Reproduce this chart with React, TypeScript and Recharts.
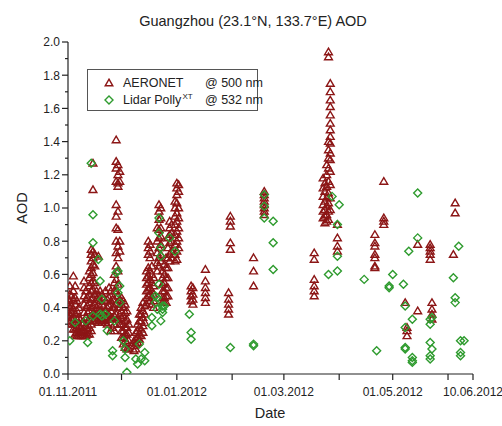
import React from 'react';
import { ScatterChart, Scatter, XAxis, YAxis } from 'recharts';

// days counted from 01.11.2011
const aeronetDays = [
  0, 1, 2, 3, 4, 5, 6, 7, 8, 9, 10, 11, 12, 13, 14, 15, 16, 17, 18, 19, 20, 21, 22, 23, 24, 25,
  26, 27, 28, 29, 30, 31, 32, 33, 34, 37, 38, 39, 40, 41, 42, 43, 44, 45, 46, 47, 48, 50, 51, 52,
  53, 54, 55, 56, 57, 58, 60, 61, 62, 69, 70, 77, 90, 91, 104, 110, 138, 143, 144, 145, 146, 147,
  151, 172, 177, 189, 190, 196, 203, 204, 216, 217,
];
const aeronetAod = [
  [0.45, 0.42, 0.38, 0.35],
  [0.53, 0.48, 0.44, 0.4, 0.36, 0.32],
  [0.47, 0.41, 0.37, 0.33, 0.3],
  [0.59, 0.5, 0.45, 0.39, 0.34, 0.3, 0.27],
  [0.53, 0.46, 0.42, 0.36, 0.31, 0.27, 0.24],
  [0.44, 0.38, 0.33, 0.28, 0.25, 0.23],
  [0.4, 0.34, 0.29, 0.25, 0.23],
  [0.33, 0.28, 0.25, 0.23],
  [0.3, 0.26, 0.23],
  [0.56, 0.52, 0.47, 0.42, 0.37, 0.31, 0.26, 0.23],
  [0.5, 0.45, 0.4, 0.34, 0.29, 0.25, 0.23],
  [0.46, 0.41, 0.37, 0.32, 0.27, 0.24],
  [0.62, 0.58, 0.53, 0.48, 0.43, 0.38, 0.33, 0.28, 0.24],
  [0.75, 0.72, 0.68, 0.64, 0.6, 0.55, 0.5, 0.45, 0.4, 0.35, 0.3, 0.26],
  [1.27, 1.11, 0.74, 0.7, 0.66, 0.61, 0.56, 0.51, 0.46, 0.41, 0.36, 0.32],
  [0.72, 0.65, 0.55, 0.48, 0.42, 0.36, 0.33],
  [0.5, 0.45, 0.4, 0.35, 0.32],
  [0.71, 0.47, 0.42, 0.38, 0.34, 0.31],
  [0.5, 0.44, 0.38, 0.33],
  [0.48, 0.42, 0.37, 0.33, 0.31],
  [0.46, 0.41, 0.36, 0.32],
  [0.5, 0.44, 0.38, 0.34, 0.31],
  [0.45, 0.4, 0.36, 0.33, 0.3],
  [0.52, 0.46, 0.41, 0.36, 0.33],
  [0.5, 0.44, 0.38, 0.34, 0.26],
  [0.45, 0.4, 0.34, 0.28],
  [0.6, 0.55, 0.5, 0.45, 0.4, 0.35, 0.3, 0.26],
  [1.41, 1.28, 1.24, 1.16, 1.02, 0.95, 0.88, 0.8, 0.73, 0.65, 0.57, 0.5, 0.42, 0.36],
  [1.26, 1.2, 1.15, 1.13, 0.98, 0.87, 0.77, 0.7, 0.62, 0.54, 0.47, 0.4, 0.33],
  [1.22, 1.16, 0.8, 0.74, 0.45, 0.4, 0.36, 0.3],
  [0.46, 0.42, 0.38, 0.34, 0.3, 0.26, 0.22],
  [0.44, 0.4, 0.35, 0.3, 0.26, 0.22, 0.18],
  [0.42, 0.37, 0.32, 0.28, 0.24, 0.2, 0.16],
  [0.38, 0.33, 0.28, 0.24, 0.19, 0.15],
  [0.3, 0.25, 0.2, 0.15],
  [0.2, 0.17, 0.14],
  [0.25, 0.21, 0.18, 0.15],
  [0.3, 0.26, 0.22, 0.19],
  [0.36, 0.32, 0.28, 0.24, 0.21],
  [0.4, 0.36, 0.32, 0.27, 0.23],
  [0.43, 0.38, 0.34, 0.29, 0.25],
  [0.41, 0.36, 0.31],
  [0.62, 0.58, 0.54, 0.5, 0.46, 0.42],
  [0.8, 0.76, 0.72, 0.64, 0.59, 0.55, 0.51, 0.47],
  [0.78, 0.74, 0.7, 0.62, 0.57, 0.52, 0.48, 0.44],
  [0.65, 0.6, 0.55, 0.5, 0.46, 0.42],
  [0.58, 0.53, 0.48, 0.44, 0.4],
  [0.88, 0.8, 0.73, 0.67, 0.62],
  [1.02, 0.98, 0.93, 0.87, 0.82, 0.76, 0.7, 0.65],
  [1.0, 0.94, 0.88, 0.83, 0.78, 0.72, 0.68],
  [0.62, 0.58, 0.54, 0.5, 0.46, 0.43],
  [0.66, 0.6, 0.55, 0.5, 0.46, 0.43],
  [0.7, 0.64, 0.58, 0.52, 0.47, 0.43],
  [0.82, 0.76, 0.7, 0.64, 0.58, 0.52, 0.47],
  [0.92, 0.88, 0.84, 0.79, 0.72, 0.68],
  [0.9, 0.85, 0.8, 0.74, 0.7],
  [1.04, 1.0, 0.95, 0.9, 0.84, 0.78, 0.72, 0.68],
  [1.15, 1.12, 1.08, 1.03, 0.97, 0.92, 0.86, 0.8, 0.74, 0.69],
  [1.14, 1.1, 1.0, 0.94, 0.88, 0.82, 0.76],
  [0.53, 0.5, 0.47, 0.44],
  [0.52, 0.48, 0.45, 0.42],
  [0.63, 0.56, 0.52, 0.49, 0.46, 0.43],
  [0.49, 0.45, 0.42, 0.39, 0.36],
  [0.95, 0.92, 0.89, 0.79, 0.75],
  [0.7, 0.62, 0.53],
  [1.1, 1.08, 1.06, 1.04, 1.02, 1.0, 0.98, 0.96],
  [0.73, 0.69, 0.57, 0.53, 0.5, 0.47],
  [1.18, 1.12, 1.07, 1.02, 0.98, 0.94],
  [1.15, 1.1, 1.04, 0.99, 0.95, 0.91],
  [1.26, 1.2, 1.13, 1.06, 1.01, 0.96, 0.92],
  [1.94, 1.91, 1.4, 1.35, 1.3, 1.24, 1.16, 1.09, 1.03, 0.98, 0.93],
  [1.75, 1.7, 1.65, 1.61, 1.56, 1.51, 1.47, 1.43, 1.39, 1.33, 1.29, 1.22, 1.14, 1.06, 0.99],
  [0.9, 0.82, 0.77, 0.74],
  [0.84, 0.79, 0.77, 0.72, 0.7, 0.65, 0.64],
  [1.16, 0.94, 0.92, 0.9],
  [0.43],
  [0.28, 0.26, 0.23],
  [0.78, 0.38],
  [0.78, 0.76, 0.74, 0.72, 0.69],
  [0.43, 0.39, 0.36, 0.33],
  [0.72],
  [1.03, 0.97],
];

const lidarDays = [
  1, 4, 10, 11, 13, 14, 17, 18, 19, 21, 22, 25, 26, 27, 28, 29, 31, 32, 33, 38, 39, 40, 41, 43,
  47, 49, 50, 51, 52, 53, 54, 57, 60, 68, 69, 91, 104, 110, 115, 146, 148, 151, 152, 166, 173,
  180, 182, 188, 189, 191, 193, 196, 203, 204, 216, 217, 219, 220, 222,
];
const lidarAod = [
  [0.2], [0.31], [0.32], [0.19], [1.27], [0.96, 0.79, 0.35], [0.69], [0.56, 0.36], [0.45, 0.35],
  [0.36], [0.26], [0.14, 0.11], [0.32], [0.61], [0.62, 0.49], [0.53, 0.43], [0.2], [0.15, 0.1],
  [0.01], [0.09], [0.06], [0.18], [0.09], [0.13, 0.08], [0.34, 0.29], [0.47, 0.43], [0.46, 0.39],
  [0.94, 0.85, 0.54], [0.76, 0.71, 0.32], [0.41, 0.39, 0.37], [0.41], [0.82], [0.74], [0.36],
  [0.25, 0.21], [0.16], [0.18, 0.17], [1.08, 1.01, 0.94], [0.92, 0.79, 0.63], [0.6], [1.07],
  [0.9, 0.71, 0.62], [1.02], [0.57], [0.14], [0.53, 0.52], [0.6], [0.54], [0.41, 0.28, 0.16, 0.15],
  [0.74], [0.33, 0.1, 0.08, 0.07], [1.09, 0.82], [0.33, 0.3, 0.19, 0.11, 0.09], [0.34, 0.15],
  [0.58], [0.46, 0.43], [0.77], [0.2, 0.13, 0.11], [0.2],
];

const dateTicks = [0, 30, 61, 92, 121, 152, 182, 213, 227];
const dateLabels: Record<number, string> = {
  0: '01.11.2011',
  61: '01.01.2012',
  121: '01.03.2012',
  182: '01.05.2012',
  227: '10.06.2012',
};
const aodTicks = [0, 0.1, 0.2, 0.3, 0.4, 0.5, 0.6, 0.7, 0.8, 0.9, 1.0, 1.1, 1.2, 1.3, 1.4, 1.5, 1.6, 1.7, 1.8, 1.9, 2.0];

const RED = '#8c1616';
const GREEN = '#2e9b2e';
const AXIS = '#222';
const FONT = '"Liberation Sans", Arial, sans-serif';

const aeronet = aeronetDays.flatMap((day, i) => aeronetAod[i].map((aod) => ({ day, aod })));
const lidar = lidarDays.flatMap((day, i) => lidarAod[i].map((aod) => ({ day, aod })));

const isMajor = (v: number) => Math.round(v * 10) % 2 === 0;

const BottomTick = ({ x, y, payload }: any) => {
  const label = dateLabels[payload.value];
  return (
    <g>
      <line x1={x} y1={y} x2={x} y2={y + 6} stroke={AXIS} strokeWidth={1.2} />
      {label && (
        <text x={x} y={y + 22} textAnchor='middle' fontSize={12} fill='#222' fontFamily={FONT}>
          {label}
        </text>
      )}
    </g>
  );
};

const TopTick = ({ x, y }: any) => <line x1={x} y1={y} x2={x} y2={y + 5} stroke={AXIS} strokeWidth={1.2} />;

const LeftTick = ({ x, y, payload }: any) => {
  const major = isMajor(payload.value);
  return (
    <g>
      <line x1={x - (major ? 6 : 3)} y1={y} x2={x} y2={y} stroke={AXIS} strokeWidth={1.2} />
      {major && (
        <text x={x - 8} y={y} dy='0.36em' textAnchor='end' fontSize={12} fill='#222' fontFamily={FONT}>
          {payload.value.toFixed(1)}
        </text>
      )}
    </g>
  );
};

const RightTick = ({ x, y, payload }: any) => {
  const len = isMajor(payload.value) ? 5 : 3;
  return <line x1={x - len} y1={y} x2={x} y2={y} stroke={AXIS} strokeWidth={1.2} />;
};

const Triangle = ({ cx, cy }: any) => (
  <path d={`M${cx},${cy - 3.8} L${cx + 3.9},${cy + 2.8} L${cx - 3.9},${cy + 2.8} Z`} fill='none' stroke={RED} strokeWidth={1.4} />
);

const Diamond = ({ cx, cy }: any) => (
  <path d={`M${cx},${cy - 4} L${cx + 4},${cy} L${cx},${cy + 4} L${cx - 4},${cy} Z`} fill='none' stroke={GREEN} strokeWidth={1.4} />
);

export default function App() {
  const axisLine = { stroke: AXIS, strokeWidth: 1.2 };
  const row: React.CSSProperties = { position: 'absolute', left: 0, height: 16, width: '100%', whiteSpace: 'nowrap' };
  return (
    <div style={{ position: 'absolute', left: 0, top: 0, width: 502, height: 426, background: '#fff', fontFamily: FONT }}>
      <div style={{ position: 'absolute', left: 0, width: 506, top: 13, lineHeight: '16px', fontSize: 14.5, textAlign: 'center', color: '#222' }}>
        Guangzhou (23.1°N, 133.7°E) AOD
      </div>
      <ScatterChart width={502} height={426} margin={{ top: 42, right: 29, bottom: 22, left: 28 }}>
        <XAxis
          xAxisId='bottom'
          dataKey='day'
          type='number'
          domain={[0, 227]}
          allowDataOverflow
          ticks={dateTicks}
          interval={0}
          height={30}
          tickSize={0}
          tickMargin={0}
          tickLine={false}
          axisLine={axisLine}
          tick={<BottomTick />}
        />
        <XAxis
          xAxisId='top'
          orientation='top'
          dataKey='day'
          type='number'
          domain={[0, 227]}
          allowDataOverflow
          ticks={dateTicks}
          interval={0}
          height={0}
          tickSize={0}
          tickMargin={0}
          tickLine={false}
          axisLine={axisLine}
          tick={<TopTick />}
        />
        <YAxis
          yAxisId='left'
          dataKey='aod'
          type='number'
          domain={[0, 2]}
          allowDataOverflow
          ticks={aodTicks}
          interval={0}
          width={40}
          tickSize={0}
          tickMargin={0}
          tickLine={false}
          axisLine={axisLine}
          tick={<LeftTick />}
        />
        <YAxis
          yAxisId='right'
          orientation='right'
          dataKey='aod'
          type='number'
          domain={[0, 2]}
          allowDataOverflow
          ticks={aodTicks}
          interval={0}
          width={0}
          tickSize={0}
          tickMargin={0}
          tickLine={false}
          axisLine={axisLine}
          tick={<RightTick />}
        />
        <Scatter name='AERONET @ 500 nm' data={aeronet} xAxisId='bottom' yAxisId='left' shape={<Triangle />} isAnimationActive={false} />
        <Scatter name='Lidar PollyXT @ 532 nm' data={lidar} xAxisId='bottom' yAxisId='left' shape={<Diamond />} isAnimationActive={false} />
      </ScatterChart>
      <div
        style={{
          position: 'absolute',
          left: 16,
          top: 208,
          width: 12,
          height: 0,
          transform: 'rotate(-90deg)',
          display: 'flex',
          justifyContent: 'center',
          alignItems: 'center',
          fontSize: 14.5,
          color: '#222',
          whiteSpace: 'nowrap',
        }}
      >
        AOD
      </div>
      <div style={{ position: 'absolute', left: 220, width: 100, top: 404, lineHeight: '18px', fontSize: 14.5, textAlign: 'center', color: '#222' }}>
        Date
      </div>
      <div
        style={{
          position: 'absolute',
          left: 87,
          top: 69,
          width: 171,
          height: 42,
          boxSizing: 'border-box',
          border: '1px solid #555',
          background: '#fff',
          fontSize: 12.5,
          lineHeight: '16px',
          color: '#222',
        }}
      >
        <div style={{ ...row, top: 5 }}>
          <svg width={10} height={10} style={{ position: 'absolute', left: 16, top: 3 }}>
            <path d='M5,1.2 L8.8,7.8 L1.2,7.8 Z' fill='none' stroke={RED} strokeWidth={1.4} />
          </svg>
          <span style={{ position: 'absolute', left: 35 }}>AERONET</span>
          <span style={{ position: 'absolute', left: 117 }}>@ 500 nm</span>
        </div>
        <div style={{ ...row, top: 22 }}>
          <svg width={10} height={10} style={{ position: 'absolute', left: 16, top: 3 }}>
            <path d='M5,1 L9,5 L5,9 L1,5 Z' fill='none' stroke={GREEN} strokeWidth={1.4} />
          </svg>
          <span style={{ position: 'absolute', left: 35 }}>
            Lidar Polly
            <span style={{ fontSize: 8, position: 'relative', top: -5, marginLeft: 1 }}>XT</span>
          </span>
          <span style={{ position: 'absolute', left: 117 }}>@ 532 nm</span>
        </div>
      </div>
    </div>
  );
}
